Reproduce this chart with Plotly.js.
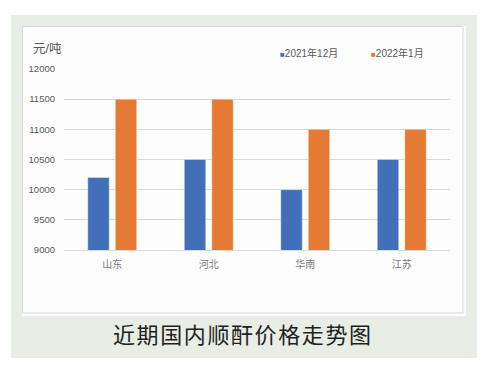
<!DOCTYPE html>
<html>
<head>
<meta charset="utf-8">
<script src="https://cdn.plot.ly/plotly-3.0.1.min.js"></script>
<style>html,body{margin:0;padding:0;background:#fff;}#chart{width:481px;height:365px;}</style>
</head>
<body>
<div id="chart"></div>
<script>
const categories = ["山东", "河北", "华南", "江苏"];
const seriesNames = ["2021年12月", "2022年1月"];
const dec2021 = [10200, 10500, 10000, 10500];
const jan2022 = [11500, 11500, 11000, 11000];
const yTicks = [9000, 9500, 10000, 10500, 11000, 11500, 12000];
const unitLabel = "元/吨";
const chartTitle = "近期国内顺酐价格走势图";

const W = 481, H = 365;
const L = 64, R = 450, T = 69, B = 250;
const px = x => (x - L) / (R - L);
const py = y => (B - y) / (B - T);

const colors = ["#4270B8", "#E47A34"];
const font = "Liberation Sans, Noto Sans CJK SC, sans-serif";

const traces = [
  {type: "bar", name: seriesNames[0], x: categories, y: dec2021,
   marker: {color: colors[0], line: {color: "rgba(255,255,255,0.5)", width: 0.8}}},
  {type: "bar", name: seriesNames[1], x: categories, y: jan2022,
   marker: {color: colors[1], line: {color: "rgba(255,255,255,0.5)", width: 0.8}}}
];

const layout = {
  width: W, height: H,
  margin: {l: L, r: W - R, t: T, b: H - B, pad: 0},
  paper_bgcolor: "#ffffff",
  plot_bgcolor: "rgba(0,0,0,0)",
  showlegend: false,
  barmode: "group",
  bargap: 0.43,
  bargroupgap: 0.22,
  font: {family: font, color: "#595959"},
  xaxis: {
    type: "category",
    showgrid: false,
    showline: true, linecolor: "#d9d9d9", linewidth: 1,
    ticks: "", tickfont: {size: 10, color: "#7a7a7a"},
    ticklabelstandoff: 5,
    fixedrange: true
  },
  yaxis: {
    range: [9000, 12000],
    tickvals: yTicks,
    ticktext: yTicks.map(String),
    showgrid: true, gridcolor: "#d9d9d9", gridwidth: 1,
    zeroline: false, showline: false,
    ticks: "", tickfont: {size: 9.5, color: "#595959"},
    ticklabelstandoff: 8,
    fixedrange: true
  },
  shapes: [
    {type: "rect", xref: "paper", yref: "paper", layer: "below",
     x0: px(11), x1: px(477), y0: py(358), y1: py(15),
     fillcolor: "#e8ede6", line: {width: 0}},
    {type: "rect", xref: "paper", yref: "paper", layer: "below",
     x0: px(22), x1: px(466), y0: py(316), y1: py(26),
     fillcolor: "#ffffff", line: {width: 0}},
    {type: "rect", xref: "paper", yref: "paper", layer: "below",
     x0: px(22.5), x1: px(463), y0: py(313), y1: py(26.5),
     fillcolor: "#fdfdfd", line: {color: "#d6d6d6", width: 1}}
  ],
  annotations: [
    {xref: "paper", yref: "paper", x: px(31), y: py(49), xanchor: "left", yanchor: "middle",
     text: unitLabel, showarrow: false, font: {size: 12.5, color: "#595959", family: font}},
    {xref: "paper", yref: "paper", x: px(278), y: py(53), xanchor: "left", yanchor: "middle",
     text: '<span style="color:' + colors[0] + ';font-size:8px">■</span>' + seriesNames[0],
     showarrow: false, font: {size: 10, color: "#595959", family: font}},
    {xref: "paper", yref: "paper", x: px(369), y: py(53), xanchor: "left", yanchor: "middle",
     text: '<span style="color:' + colors[1] + ';font-size:8px">■</span>' + seriesNames[1],
     showarrow: false, font: {size: 10, color: "#595959", family: font}},
    {xref: "paper", yref: "paper", x: px(243), y: py(333), xanchor: "center", yanchor: "middle",
     text: '<span style="letter-spacing:1.6px">' + chartTitle + '</span>', showarrow: false,
     font: {size: 22, color: "#231f20", family: "Noto Sans CJK SC, sans-serif"}}
  ]
};

Plotly.newPlot("chart", traces, layout, {displayModeBar: false, staticPlot: true});
</script>
</body>
</html>
